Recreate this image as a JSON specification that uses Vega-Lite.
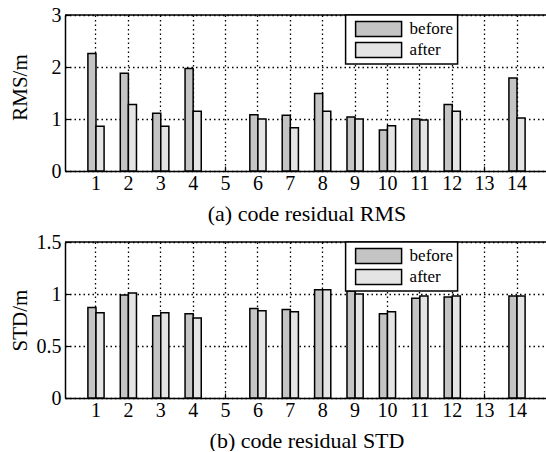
{
  "$schema": "https://vega.github.io/schema/vega-lite/v6.json",
  "background": "white",
  "padding": {"left": 8, "top": 5, "right": 0, "bottom": 0},
  "spacing": 8,
  "datasets": {
    "rms": [
      {"sat": 1, "series": "before", "value": 2.26},
      {"sat": 1, "series": "after", "value": 0.86},
      {"sat": 2, "series": "before", "value": 1.88},
      {"sat": 2, "series": "after", "value": 1.28},
      {"sat": 3, "series": "before", "value": 1.11},
      {"sat": 3, "series": "after", "value": 0.86},
      {"sat": 4, "series": "before", "value": 1.97},
      {"sat": 4, "series": "after", "value": 1.15},
      {"sat": 6, "series": "before", "value": 1.08},
      {"sat": 6, "series": "after", "value": 1.0},
      {"sat": 7, "series": "before", "value": 1.07},
      {"sat": 7, "series": "after", "value": 0.83},
      {"sat": 8, "series": "before", "value": 1.49},
      {"sat": 8, "series": "after", "value": 1.15},
      {"sat": 9, "series": "before", "value": 1.04},
      {"sat": 9, "series": "after", "value": 1.0},
      {"sat": 10, "series": "before", "value": 0.79},
      {"sat": 10, "series": "after", "value": 0.87},
      {"sat": 11, "series": "before", "value": 1.0},
      {"sat": 11, "series": "after", "value": 0.98},
      {"sat": 12, "series": "before", "value": 1.28},
      {"sat": 12, "series": "after", "value": 1.15},
      {"sat": 14, "series": "before", "value": 1.79},
      {"sat": 14, "series": "after", "value": 1.02}
    ],
    "std": [
      {"sat": 1, "series": "before", "value": 0.87},
      {"sat": 1, "series": "after", "value": 0.82},
      {"sat": 2, "series": "before", "value": 0.99},
      {"sat": 2, "series": "after", "value": 1.01},
      {"sat": 3, "series": "before", "value": 0.79},
      {"sat": 3, "series": "after", "value": 0.82},
      {"sat": 4, "series": "before", "value": 0.81},
      {"sat": 4, "series": "after", "value": 0.77},
      {"sat": 6, "series": "before", "value": 0.86},
      {"sat": 6, "series": "after", "value": 0.84},
      {"sat": 7, "series": "before", "value": 0.85},
      {"sat": 7, "series": "after", "value": 0.83},
      {"sat": 8, "series": "before", "value": 1.04},
      {"sat": 8, "series": "after", "value": 1.04},
      {"sat": 9, "series": "before", "value": 1.03},
      {"sat": 9, "series": "after", "value": 1.0},
      {"sat": 10, "series": "before", "value": 0.81},
      {"sat": 10, "series": "after", "value": 0.83},
      {"sat": 11, "series": "before", "value": 0.96},
      {"sat": 11, "series": "after", "value": 0.98},
      {"sat": 12, "series": "before", "value": 0.97},
      {"sat": 12, "series": "after", "value": 0.98},
      {"sat": 14, "series": "before", "value": 0.98},
      {"sat": 14, "series": "after", "value": 0.98}
    ]
  },
  "config": {
    "font": "Liberation Serif",
    "view": {"stroke": null},
    "axis": {
      "labelFont": "Liberation Serif",
      "labelFontSize": 20,
      "labelColor": "black",
      "titleFont": "Liberation Serif",
      "titleFontSize": 22,
      "titleFontWeight": "normal",
      "titleColor": "black",
      "domainColor": "black",
      "domainWidth": 1.5,
      "tickColor": "black",
      "tickWidth": 1.2,
      "tickSize": -5,
      "grid": true,
      "gridColor": "black",
      "gridOpacity": 1,
      "gridWidth": 1.3,
      "gridDash": [1.5, 3]
    },
    "axisX": {"labelAngle": 0, "bandPosition": 0.5, "labelPadding": 7, "titlePadding": 10},
    "axisY": {"labelPadding": 9, "titleX": -39, "titleFontSize": 21, "titleBaseline": "alphabetic", "titleAlign": "center"},
    "legend": {
      "orient": "none",
      "legendX": 280.6,
      "legendY": 0,
      "strokeColor": "black",
      "strokeWidth": 1.5,
      "fillColor": "white",
      "padding": 4,
      "symbolType": "M-1,-0.326H1V0.326H-1Z",
      "symbolSize": 2116,
      "symbolStrokeColor": "black",
      "symbolStrokeWidth": 1.5,
      "symbolOffset": 5,
      "labelFont": "Liberation Serif",
      "labelFontSize": 17,
      "labelColor": "black",
      "labelOffset": 7,
      "clipHeight": 20,
      "rowPadding": 1
    },
    "bar": {"stroke": "black", "strokeWidth": 1.5}
  },
  "resolve": {"legend": {"color": "independent"}},
  "vconcat": [
    {
      "width": 483,
      "height": 156,
      "layer": [
        {
          "data": {"name": "rms"},
          "mark": {"type": "bar"},
          "encoding": {
            "x": {
              "field": "sat",
              "type": "ordinal",
              "scale": {"domain": [1, 2, 3, 4, 5, 6, 7, 8, 9, 10, 11, 12, 13, 14], "paddingInner": 0, "paddingOuter": 0.457},
              "axis": {"title": "(a) code residual RMS"}
            },
            "xOffset": {
              "field": "series",
              "type": "nominal",
              "scale": {"domain": ["before", "after"], "paddingInner": 0, "paddingOuter": 1}
            },
            "y": {
              "field": "value",
              "type": "quantitative",
              "scale": {"domain": [0, 3], "nice": false},
              "axis": {"values": [0, 1, 2, 3], "format": "~g", "title": "RMS/m", "titleY": 72}
            },
            "color": {
              "field": "series",
              "type": "nominal",
              "scale": {"domain": ["before", "after"], "range": ["#c4c4c4", "#e4e4e4"]},
              "legend": {"title": null}
            }
          }
        },
        {
          "data": {"values": [{}]},
          "mark": {"type": "rule", "color": "black", "strokeWidth": 1.5},
          "encoding": {"y": {"datum": 3, "type": "quantitative"}}
        }
      ]
    },
    {
      "width": 483,
      "height": 156,
      "layer": [
        {
          "data": {"name": "std"},
          "mark": {"type": "bar"},
          "encoding": {
            "x": {
              "field": "sat",
              "type": "ordinal",
              "scale": {"domain": [1, 2, 3, 4, 5, 6, 7, 8, 9, 10, 11, 12, 13, 14], "paddingInner": 0, "paddingOuter": 0.457},
              "axis": {"title": "(b) code residual STD"}
            },
            "xOffset": {
              "field": "series",
              "type": "nominal",
              "scale": {"domain": ["before", "after"], "paddingInner": 0, "paddingOuter": 1}
            },
            "y": {
              "field": "value",
              "type": "quantitative",
              "scale": {"domain": [0, 1.5], "nice": false},
              "axis": {"values": [0, 0.5, 1, 1.5], "format": "~g", "title": "STD/m"}
            },
            "color": {
              "field": "series",
              "type": "nominal",
              "scale": {"domain": ["before", "after"], "range": ["#c4c4c4", "#e4e4e4"]},
              "legend": {"title": null}
            }
          }
        },
        {
          "data": {"values": [{}]},
          "mark": {"type": "rule", "color": "black", "strokeWidth": 1.5},
          "encoding": {"y": {"datum": 1.5, "type": "quantitative"}}
        }
      ]
    }
  ]
}
